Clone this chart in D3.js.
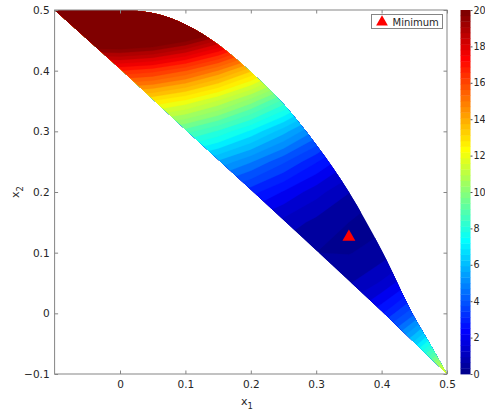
<!DOCTYPE html>
<html>
<head>
<meta charset="utf-8">
<script src="https://cdn.jsdelivr.net/npm/d3@7"></script>
<style>
  body { margin: 0; background: #fff; }
  text { font-family: "DejaVu Sans", sans-serif; fill: #262626; }
</style>
</head>
<body>
<div id="chart"></div>
<script>
const width = 485;
const height = 414;

// grid of the plotted field (rows = x2, cols = x1)
const x1Grid = [-0.1, -0.05, 0, 0.05, 0.1, 0.15, 0.2, 0.25, 0.3, 0.35, 0.4, 0.45, 0.5];
const x2Grid = [-0.1, -0.05, 0, 0.05, 0.1, 0.15, 0.2, 0.25, 0.3, 0.35, 0.4, 0.45, 0.5];
const zGrid = [
  [2.42, 2.15, 2.00, 1.95, 2.02, 2.22, 2.60, 3.20, 4.10, 5.37, 7.12, 9.45, 12.50],
  [1.57, 1.38, 1.25, 1.18, 1.17, 1.25, 1.45, 1.83, 2.45, 3.40, 4.77, 6.68, 9.25],
  [1.22, 1.10, 1.00, 0.90, 0.82, 0.77, 0.80, 0.95, 1.30, 1.92, 2.92, 4.40, 6.50],
  [1.37, 1.33, 1.25, 1.13, 0.97, 0.80, 0.65, 0.58, 0.65, 0.95, 1.57, 2.63, 4.25],
  [2.02, 2.05, 2.00, 1.85, 1.62, 1.32, 1.00, 0.70, 0.50, 0.47, 0.72, 1.35, 2.50],
  [3.17, 3.28, 3.25, 3.08, 2.77, 2.35, 1.85, 1.33, 0.85, 0.50, 0.37, 0.58, 1.25],
  [4.82, 5.00, 5.00, 4.80, 4.42, 3.87, 3.20, 2.45, 1.70, 1.02, 0.52, 0.30, 0.50],
  [6.97, 7.23, 7.25, 7.03, 6.57, 5.90, 5.05, 4.08, 3.05, 2.05, 1.17, 0.53, 0.25],
  [9.62, 9.95, 10.00, 9.75, 9.22, 8.42, 7.40, 6.20, 4.90, 3.57, 2.32, 1.25, 0.50],
  [12.77, 13.18, 13.25, 12.98, 12.37, 11.45, 10.25, 8.83, 7.25, 5.60, 3.97, 2.48, 1.25],
  [16.42, 16.90, 17.00, 16.70, 16.02, 14.97, 13.60, 11.95, 10.10, 8.12, 6.12, 4.20, 2.50],
  [20.57, 21.13, 21.25, 20.93, 20.17, 19.00, 17.45, 15.58, 13.45, 11.15, 8.77, 6.43, 4.25],
  [25.22, 25.85, 26.00, 25.65, 24.82, 23.52, 21.80, 19.70, 17.30, 14.67, 11.92, 9.15, 6.50]
];

// edges of the coloured region
const upperEdge = [
  [-0.1, 0.5], [-0.05, 0.5], [0, 0.5], [0.05, 0.495], [0.1, 0.476], [0.15, 0.443],
  [0.2, 0.398], [0.25, 0.345], [0.3, 0.278], [0.35, 0.2], [0.4, 0.104],
  [0.45, -0.006], [0.475, -0.052], [0.5, -0.1]
];
const lowerEdge = [
  [0.5, -0.1], [0.4, 0.004], [0.3, 0.104], [0.2, 0.204], [0.1, 0.303], [0, 0.403], [-0.1, 0.5]
];

const minimum = [0.35, 0.125];

const xTicks = [0, 0.1, 0.2, 0.3, 0.4, 0.5];
const yTicks = [-0.1, 0, 0.1, 0.2, 0.3, 0.4, 0.5];
const levels = d3.range(0, 20.01, 0.5);
const cbarTicks = [0, 2, 4, 6, 8, 10, 12, 14, 16, 18, 20];

// MATLAB jet(64)
function jet64(i) {
  const u = p => (p >= 1 && p <= 16) ? p / 16 : (p > 16 && p < 32) ? 1 : (p >= 32 && p <= 47) ? (48 - p) / 16 : 0;
  const k = i + 1;
  return d3.rgb(u(k - 24) * 255, u(k - 8) * 255, u(k + 8) * 255).formatHex();
}
const colorIndex = v => Math.max(0, Math.min(63, Math.floor(v / 20 * 64)));

const x = d3.scaleLinear([-0.1, 0.5], [54.6, 447]);
const y = d3.scaleLinear([-0.1, 0.5], [374, 10]);

const svg = d3.select("#chart").append("svg")
  .attr("width", width)
  .attr("height", height);

// clip region
const upperLine = d3.line().x(d => x(d[0])).y(d => y(d[1])).curve(d3.curveMonotoneX);
const lowerLine = d3.line().x(d => x(d[0])).y(d => y(d[1]));
const regionPath = upperLine(upperEdge) + lowerLine(lowerEdge).replace(/^M/, "L") + "Z";

svg.append("clipPath").attr("id", "region")
  .append("path").attr("d", regionPath);

// filled contours
const nx = x1Grid.length, ny = x2Grid.length;
const gx = d3.scaleLinear([0.5, nx - 0.5], [x1Grid[0], x1Grid[nx - 1]]);
const gy = d3.scaleLinear([0.5, ny - 0.5], [x2Grid[0], x2Grid[ny - 1]]);
const projection = d3.geoTransform({
  point: function(px, py) { this.stream.point(x(gx(px)), y(gy(py))); }
});
const contourPath = d3.geoPath(projection);

const values = zGrid.flat();
const contours = d3.contours().size([nx, ny]).thresholds(levels)(values);

svg.append("g")
  .attr("clip-path", "url(#region)")
  .selectAll("path")
  .data(contours)
  .join("path")
  .attr("d", contourPath)
  .attr("fill", d => jet64(colorIndex(d.value)))
  .attr("stroke", d => jet64(colorIndex(d.value)))
  .attr("stroke-width", 0.3);

// axes box with inward ticks
const axisColor = "#858585";
const gxAxis = svg.append("g").attr("transform", `translate(0,${y(-0.1)})`)
  .call(d3.axisBottom(x).tickValues(xTicks).tickSize(-3.5).tickPadding(7).tickFormat(d3.format("")));
const gxTop = svg.append("g").attr("transform", `translate(0,${y(0.5)})`)
  .call(d3.axisTop(x).tickValues(xTicks).tickSize(-3.5).tickFormat(""));
const gyAxis = svg.append("g").attr("transform", `translate(${x(-0.1)},0)`)
  .call(d3.axisLeft(y).tickValues(yTicks).tickSize(-3.5).tickPadding(5).tickFormat(d3.format("")));
const gyRight = svg.append("g").attr("transform", `translate(${x(0.5)},0)`)
  .call(d3.axisRight(y).tickValues(yTicks).tickSize(-3.5).tickFormat(""));

[gxAxis, gxTop, gyAxis, gyRight].forEach(g => {
  g.select(".domain").remove();
  g.selectAll("line").attr("stroke", axisColor);
  g.selectAll("text").style("font-size", "10.5px").style("font-family", "DejaVu Sans").attr("fill", "#262626");
});

svg.append("rect")
  .attr("x", x(-0.1)).attr("y", y(0.5))
  .attr("width", x(0.5) - x(-0.1)).attr("height", y(-0.1) - y(0.5))
  .attr("fill", "none").attr("stroke", axisColor);

// axis labels
const xl = svg.append("text").attr("x", 247).attr("y", 405).attr("text-anchor", "middle").style("font-size", "11px");
xl.append("tspan").text("x");
xl.append("tspan").attr("dy", 4).style("font-size", "8.5px").text("1");

const yl = svg.append("text").attr("transform", "translate(19,192) rotate(-90)").attr("text-anchor", "middle").style("font-size", "11px");
yl.append("tspan").text("x");
yl.append("tspan").attr("dy", 4).style("font-size", "8.5px").text("2");

// minimum marker
svg.append("path")
  .attr("d", d3.symbol(d3.symbolTriangle, 72)())
  .attr("transform", `translate(${x(minimum[0])},${y(minimum[1]) - 0.5})`)
  .attr("fill", "#ff0000");

// legend
const legend = svg.append("g");
legend.append("rect")
  .attr("x", 371.5).attr("y", 14.5).attr("width", 71).attr("height", 14)
  .attr("fill", "#fff").attr("stroke", axisColor);
legend.append("path")
  .attr("d", d3.symbol(d3.symbolTriangle, 60)())
  .attr("transform", "translate(382,22)")
  .attr("fill", "#ff0000");
legend.append("text")
  .attr("x", 392.5).attr("y", 25.5)
  .style("font-size", "10px")
  .text("Minimum");

// colorbar
const cy = d3.scaleLinear([0, 20], [374, 10]);
const cbar = svg.append("g");
cbar.selectAll("rect")
  .data(d3.range(64))
  .join("rect")
  .attr("x", 460.5)
  .attr("width", 10)
  .attr("y", i => cy((i + 1) * 20 / 64))
  .attr("height", i => cy(i * 20 / 64) - cy((i + 1) * 20 / 64) + 0.4)
  .attr("fill", i => jet64(i));

const cAxis = svg.append("g").attr("transform", "translate(470.5,0)")
  .call(d3.axisRight(cy).tickValues(cbarTicks).tickSize(2).tickPadding(1));
cAxis.select(".domain").remove();
cAxis.selectAll("line").attr("stroke", "#555");
cAxis.selectAll("text").style("font-size", "9.6px").attr("fill", "#262626");
</script>
</body>
</html>
